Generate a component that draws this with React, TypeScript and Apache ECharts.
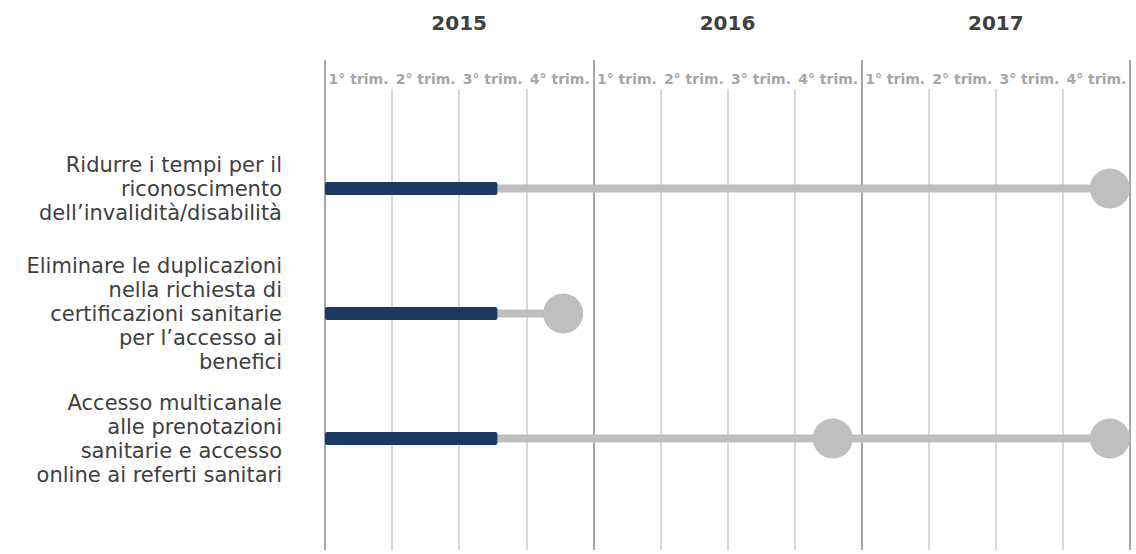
import React, { useEffect, useRef } from "react";
import * as echarts from "echarts";

const years = ["2015", "2016", "2017"];
const quarters = [
  "1° trim.", "2° trim.", "3° trim.", "4° trim.",
  "1° trim.", "2° trim.", "3° trim.", "4° trim.",
  "1° trim.", "2° trim.", "3° trim.", "4° trim.",
];
const categories = [
  "Ridurre i tempi per il\nriconoscimento\ndell’invalidità/disabilità",
  "Eliminare le duplicazioni\nnella richiesta di\ncertificazioni sanitarie\nper l’accesso ai\nbenefici",
  "Accesso multicanale\nalle prenotazioni\nsanitarie e accesso\nonline ai referti sanitari",
];
// progress (in quarters from 1° trim. 2015)
const progress = [2.57, 2.57, 2.57];
// planned end of the gray line (quarters)
const planEnd = [11.7, 3.55, 11.7];
// milestones [quarter position, category index]
const milestones: [number, number][] = [
  [11.7, 0],
  [3.55, 1],
  [7.57, 2],
  [11.7, 2],
];

const FONT = "DejaVu Sans";

export default function App() {
  const ref = useRef<HTMLDivElement>(null);
  useEffect(() => {
    if (!ref.current) return;
    const chart = echarts.init(ref.current, undefined, { renderer: "svg" });
    const left = 325;
    const right = 6;
    chart.setOption({
      animation: false,
      backgroundColor: "#ffffff",
      textStyle: { fontFamily: FONT },
      grid: [
        { left, right, top: 60, bottom: 4 },
        { left, right, top: 89, bottom: 4 },
        { left, right, top: 126, height: 375 },
      ],
      xAxis: [
        {
          gridIndex: 0,
          type: "category",
          data: years,
          position: "top",
          boundaryGap: true,
          axisLine: { show: false },
          axisTick: { show: false },
          axisLabel: {
            fontSize: 20,
            fontWeight: "bold",
            color: "#404040",
            fontFamily: FONT,
            margin: 27,
          },
          splitLine: {
            show: true,
            interval: 0,
            lineStyle: { color: "#a6a6a6", width: 2 },
          },
        },
        {
          gridIndex: 1,
          type: "category",
          data: quarters,
          position: "top",
          boundaryGap: true,
          axisLine: { show: false },
          axisTick: { show: false },
          axisLabel: {
            fontSize: 14,
            fontWeight: "bold",
            color: "#a6a6a6",
            fontFamily: FONT,
            margin: 3,
            interval: 0,
          },
          splitLine: {
            show: true,
            interval: 0,
            lineStyle: {
              color: ["rgba(0,0,0,0)", "#d9d9d9", "#d9d9d9", "#d9d9d9"],
              width: 2,
            },
          },
        },
        {
          gridIndex: 2,
          type: "value",
          min: 0,
          max: 12,
          show: false,
          splitLine: { show: false },
        },
      ],
      yAxis: [
        { gridIndex: 0, type: "value", show: false, splitLine: { show: false } },
        {
          gridIndex: 2,
          type: "category",
          data: categories,
          inverse: true,
          axisLine: { show: false },
          axisTick: { show: false },
          splitLine: { show: false },
          axisLabel: {
            fontSize: 21,
            lineHeight: 24,
            color: "#404040",
            fontFamily: FONT,
            margin: 43,
            align: "right",
          },
        },
        {
          gridIndex: 2,
          type: "category",
          data: categories,
          inverse: true,
          show: false,
        },
        { gridIndex: 1, type: "value", show: false, splitLine: { show: false } },
      ],
      series: [
        {
          type: "bar",
          xAxisIndex: 2,
          yAxisIndex: 1,
          data: planEnd,
          barWidth: 8,
          itemStyle: { color: "#bfbfbf" },
          silent: true,
        },
        {
          type: "bar",
          xAxisIndex: 2,
          yAxisIndex: 2,
          data: progress,
          barWidth: 13,
          itemStyle: { color: "#1c3961", borderRadius: 2 },
          silent: true,
        },
        {
          type: "scatter",
          xAxisIndex: 2,
          yAxisIndex: 1,
          data: milestones,
          symbol: "circle",
          symbolSize: 40,
          itemStyle: { color: "#bfbfbf", opacity: 1 },
          silent: true,
        },
      ],
    });
    return () => chart.dispose();
  }, []);
  return (
    <div
      ref={ref}
      style={{ position: "fixed", left: 0, top: 0, width: 1136, height: 554 }}
    />
  );
}
